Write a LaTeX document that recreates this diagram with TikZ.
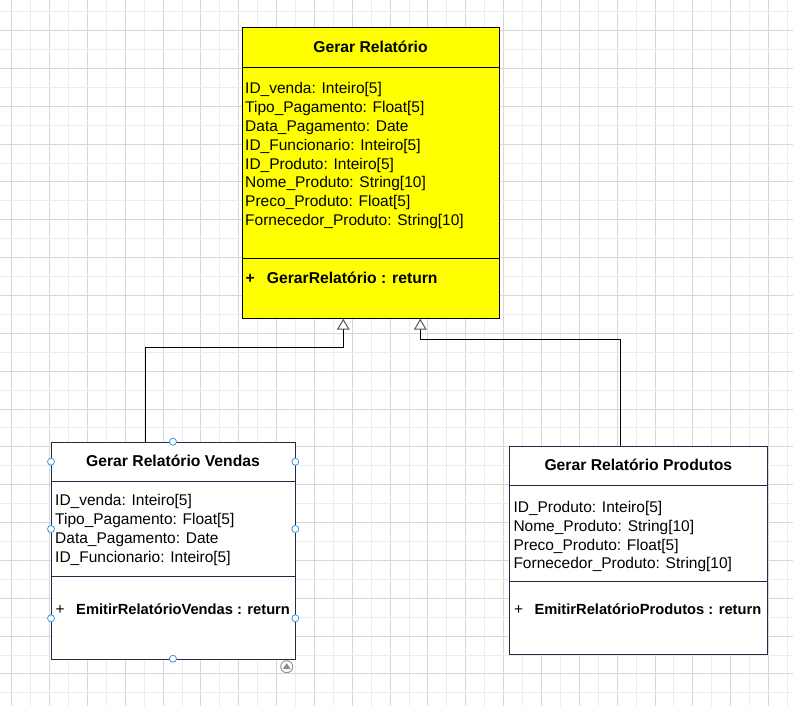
\documentclass[tikz,border=0pt]{standalone}
\usepackage{fontspec}
\setmainfont{Liberation Sans}
\usetikzlibrary{arrows.meta,calc}
\definecolor{gridA}{RGB}{216,216,216}
\definecolor{gridB}{RGB}{236,236,236}
\definecolor{navy}{RGB}{40,40,70}
\definecolor{handle}{RGB}{60,150,230}
\definecolor{arrowgray}{RGB}{85,85,85}
\definecolor{umlyellow}{RGB}{255,255,0}
\tikzset{
  classbox/.style={draw, line width=1pt, inner sep=0pt, anchor=north west},
  sepline/.style={line width=1pt},
  txt/.style={inner sep=0pt, anchor=base west, font=\fontsize{15.5}{18}\selectfont},
  ttl/.style={inner sep=0pt, anchor=base, font=\fontsize{15.7}{18}\selectfont\bfseries},
  mth/.style={inner sep=0pt, anchor=base west, font=\fontsize{15.7}{18}\selectfont\bfseries},
  mths/.style={inner sep=0pt, anchor=base west, font=\fontsize{14.7}{18}\selectfont\bfseries},
  inherit/.style={line width=1pt, black, -{Triangle[open, width=12.7pt, length=11pt, color=arrowgray]}},
  handlept/.style={circle, draw=handle, fill=white, line width=0.8pt, minimum size=7pt, inner sep=0pt},
}
\begin{document}
\begin{tikzpicture}[x=1pt, y=-1pt]
\useasboundingbox (0,0) rectangle (793,706);
\fill[white] (0,0) rectangle (793,706);
% grid
\foreach \k in {0,...,41} {
  \pgfmathsetmacro{\xx}{11.67+18.92*\k}
  \pgfmathtruncatemacro{\gp}{mod(\k,2)}
  \ifnum\gp=0 \draw[gridA, line width=0.9pt] (\xx,0) -- (\xx,706); \else \draw[gridB, line width=0.9pt] (\xx,0) -- (\xx,706); \fi
}
\foreach \k in {0,...,36} {
  \pgfmathsetmacro{\yy}{11.67+18.92*\k}
  \pgfmathtruncatemacro{\gp}{mod(\k,2)}
  \ifnum\gp=1 \draw[gridA, line width=0.9pt] (0,\yy) -- (793,\yy); \else \draw[gridB, line width=0.9pt] (0,\yy) -- (793,\yy); \fi
}

% base class
\node[classbox, fill=umlyellow, draw=black, minimum width=257.6pt, minimum height=290.4pt] (base) at (241.7,27.3) {};
\draw[sepline] (241.7,67.3) -- (499.3,67.3);
\draw[sepline] (241.7,258) -- (499.3,258);
\node[ttl] (bt) at (370.5,52.5) {Gerar Relatório};
\node[txt] (b1) at (245,94) {ID\_venda: Inteiro[5]};
\node[txt] (b2) at (245,112.8) {Tipo\_Pagamento: Float[5]};
\node[txt] (b3) at (245,131.6) {Data\_Pagamento: Date};
\node[txt] (b4) at (245,150.4) {ID\_Funcionario: Inteiro[5]};
\node[txt] (b5) at (245,169.2) {ID\_Produto: Inteiro[5]};
\node[txt] (b6) at (245,188) {Nome\_Produto: String[10]};
\node[txt] (b7) at (245,206.8) {Preco\_Produto: Float[5]};
\node[txt] (b8) at (245,225.7) {Fornecedor\_Produto: String[10]};
\node[mth] (bp) at (245.5,283.7) {+};
\node[mth] (bm) at (266.7,283.7) {GerarRelatório : return};

% vendas class
\node[classbox, fill=white, draw=navy, minimum width=244.3pt, minimum height=217pt] (vendas) at (51,441.7) {};
\draw[sepline, navy] (51,481) -- (295.3,481);
\draw[sepline, navy] (51,576.7) -- (295.3,576.7);
\node[ttl] (vt) at (173,466.4) {Gerar Relatório Vendas};
\node[txt] (v1) at (55,505.7) {ID\_venda: Inteiro[5]};
\node[txt] (v2) at (55,524.5) {Tipo\_Pagamento: Float[5]};
\node[txt] (v3) at (55,543.3) {Data\_Pagamento: Date};
\node[txt] (v4) at (55,562.2) {ID\_Funcionario: Inteiro[5]};
\node[txt] (vp) at (55.5,614.7) {+};
\node[mths] (vm) at (76,614.7) {EmitirRelatórioVendas : return};

% produtos class
\node[classbox, fill=white, draw=navy, minimum width=258pt, minimum height=208.3pt] (produtos) at (509.3,445.7) {};
\draw[sepline, navy] (509.3,485.3) -- (767.3,485.3);
\draw[sepline, navy] (509.3,581.7) -- (767.3,581.7);
\node[ttl] (pt) at (638.3,470.7) {Gerar Relatório Produtos};
\node[txt] (p1) at (513.3,512.4) {ID\_Produto: Inteiro[5]};
\node[txt] (p2) at (513.3,531.2) {Nome\_Produto: String[10]};
\node[txt] (p3) at (513.3,550) {Preco\_Produto: Float[5]};
\node[txt] (p4) at (513.3,568.5) {Fornecedor\_Produto: String[10]};
\node[txt] (pp) at (514,614.7) {+};
\node[mths] (pm) at (534.3,614.7) {EmitirRelatórioProdutos : return};

% connectors
\coordinate (vstart) at ($(vendas.north west)+(94.3,0)$);
\coordinate (vbend) at (145.3,347.3);
\coordinate (vtop) at (343.3,347.3);
\draw[inherit] (vstart) -- (vbend) -- (vtop) -- (vtop |- base.south);
\coordinate (pstart) at (620.3,445.7);
\coordinate (pbend) at (620.3,339.3);
\coordinate (ptop) at (420.3,339.3);
\draw[inherit] (pstart) -- (pbend) -- (ptop) -- (ptop |- base.south);

% selection handles
\foreach \p/\q in {173/441.7, 173/658.7, 51/461.7, 51/529, 51/618.3, 295.3/461.7, 295.3/529, 295.3/618.3} {
  \node[handlept] at (\p,\q) {};
}
% rotate/collapse icon
\node[circle, draw=gray!80, line width=1pt, minimum size=12pt, inner sep=0pt] (icon) at (286.7,666.7) {};
\fill[gray!90] (282.9,668.8) -- (290.5,668.8) -- (286.7,663.2) -- cycle;
\end{tikzpicture}
\end{document}
